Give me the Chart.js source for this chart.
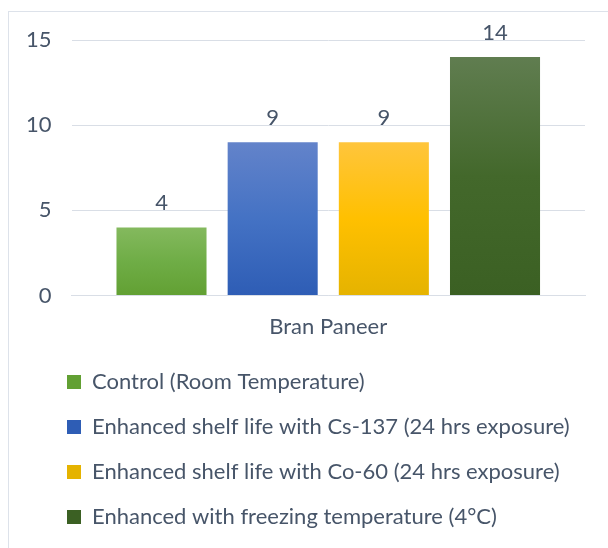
<!DOCTYPE html>
<html>
<head>
<meta charset="utf-8">
<script src="https://cdn.jsdelivr.net/npm/chart.js@4.4.0/dist/chart.umd.min.js"></script>
<style>
  body { margin: 0; background: #fff; }
  #frame { position: absolute; left: 8px; top: 11px; width: 620px; height: 560px; border: 1px solid #dde2ea; }
  #wrap { position: absolute; left: 0; top: 0; width: 608px; height: 548px; }
</style>
</head>
<body>
<div id="frame"></div>
<div id="wrap"><canvas id="myChart"></canvas></div>
<script>
const categories = ['Bran Paneer'];
const seriesNames = [
    'Control (Room Temperature)',
    'Enhanced shelf life with Cs-137 (24 hrs exposure)',
    'Enhanced shelf life with Co-60 (24 hrs exposure)',
    'Enhanced with freezing temperature (4°C)'
];
const seriesValues = [4, 9, 9, 14];
const yTicks = [0, 5, 10, 15];

// top, middle, bottom colours of each bar's gradient
const gradStops = [
    ['#84b95e', '#6fad46', '#62a033'],
    ['#6383ca', '#4472c4', '#2e5db5'],
    ['#ffc53c', '#ffc000', '#e5b300'],
    ['#607d50', '#43682b', '#3b6023']
];
const textColor = '#475569';
const gridColor = '#d9dee6';
const fontFamily = 'Lato';

function barGradient(i) {
    return function (context) {
        const chart = context.chart;
        const {ctx, chartArea, scales} = chart;
        if (!chartArea) return gradStops[i][1];
        const top = scales.y.getPixelForValue(seriesValues[i]);
        const bottom = scales.y.getPixelForValue(0);
        const g = ctx.createLinearGradient(0, top, 0, bottom);
        g.addColorStop(0, gradStops[i][0]);
        g.addColorStop(0.5, gradStops[i][1]);
        g.addColorStop(1, gradStops[i][2]);
        return g;
    };
}

const valueLabels = {
    id: 'valueLabels',
    afterDatasetsDraw(chart) {
        const ctx = chart.ctx;
        ctx.save();
        ctx.font = '22px ' + fontFamily;
        ctx.fillStyle = textColor;
        ctx.textAlign = 'center';
        ctx.textBaseline = 'alphabetic';
        chart.data.datasets.forEach((ds, i) => {
            chart.getDatasetMeta(i).data.forEach((bar, j) => {
                ctx.fillText(ds.data[j], bar.x, bar.y - 17);
            });
        });
        ctx.restore();
    }
};

// nudge the legend so its rows sit where the original's do
const legendShift = {
    id: 'legendShift',
    afterLayout(chart) {
        const lg = chart.legend;
        lg.left += 38; lg.right += 38;
        lg.top -= 10; lg.bottom -= 10;
    }
};

const datasets = seriesNames.map((name, i) => ({
    label: name,
    data: [seriesValues[i]],
    backgroundColor: barGradient(i),
    borderWidth: 0
}));

let ct = document.getElementById('myChart').getContext('2d');
let myChart = new Chart(ct, {
    type: 'bar',
    data: {
        labels: categories,
        datasets: datasets
    },
    options: {
        responsive: true,
        maintainAspectRatio: false,
        animation: false,
        categoryPercentage: 0.866,
        barPercentage: 0.81,
        layout: {
            padding: { left: 6, right: 23, top: 40, bottom: 0 }
        },
        scales: {
            x: {
                grid: { display: false, drawTicks: false },
                border: { display: true, color: gridColor, width: 1 },
                ticks: { color: textColor, font: { family: fontFamily, size: 22 }, padding: 18 }
            },
            y: {
                min: 0,
                max: 15,
                afterBuildTicks: axis => { axis.ticks = yTicks.map(v => ({value: v})); },
                grid: { color: gridColor, lineWidth: 1, drawTicks: false },
                border: { display: false },
                ticks: { color: textColor, font: { family: fontFamily, size: 22 }, padding: 20 }
            }
        },
        plugins: {
            legend: {
                position: 'bottom',
                align: 'start',
                labels: {
                    boxWidth: 14,
                    boxHeight: 14,
                    padding: 23,
                    color: textColor,
                    font: { family: fontFamily, size: 22 }
                }
            },
            tooltip: { enabled: false }
        }
    },
    plugins: [valueLabels, legendShift]
});
</script>
</body>
</html>
